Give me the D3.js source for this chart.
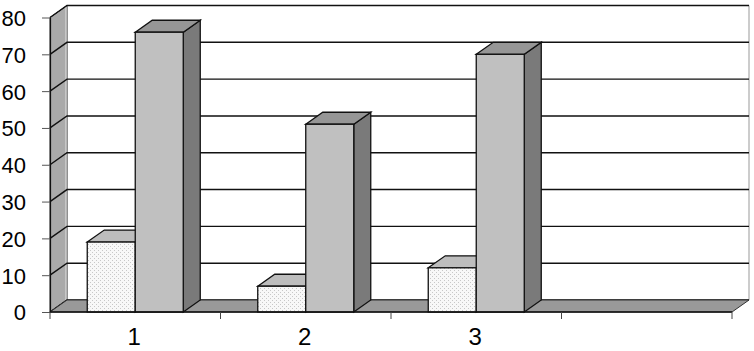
<!DOCTYPE html>
<html><head><meta charset="utf-8">
<script src="https://cdn.jsdelivr.net/npm/d3@7"></script>
<style>html,body{margin:0;padding:0;background:#fff;overflow:hidden}</style>
</head><body>
<svg id="c" width="754" height="351"></svg>
<script>
const categories = ["1", "2", "3", ""];
const seriesSmall = [19, 7, 12, null];
const seriesBig = [76, 51, 70, null];
const yTicks = [0, 10, 20, 30, 40, 50, 60, 70, 80];

const svg = d3.select("#c");
const x0 = 50, x1 = 732, dx = 17, dy = -12;
const y = d3.scaleLinear().domain([0, 80]).range([312, 17.5]);
const xb = d3.scaleBand().domain(categories).range([x0, x1]).padding(0);
const xs = d3.scaleBand().domain(["s", "b"]).range([0, xb.bandwidth()]).paddingInner(0).paddingOuter(0.776);

const defs = svg.append("defs");
const pat = defs.append("pattern").attr("id", "dots").attr("patternUnits", "userSpaceOnUse")
  .attr("width", 4).attr("height", 4);
pat.append("rect").attr("width", 4).attr("height", 4).attr("fill", "#f8f8f8");
pat.append("rect").attr("x", 0).attr("y", 0).attr("width", 1).attr("height", 1).attr("fill", "#c8c8c8");
pat.append("rect").attr("x", 2).attr("y", 2).attr("width", 1).attr("height", 1).attr("fill", "#c8c8c8");

const line = d3.line();
const poly = pts => line(pts) + "Z";

// back wall
svg.append("path").attr("d", poly([[x0 + dx, y(80) + dy], [x1 + dx, y(80) + dy], [x1 + dx, y(0) + dy], [x0 + dx, y(0) + dy]]))
  .attr("fill", "#fff").attr("stroke", "none");
svg.append("path").attr("d", line([[x1 + dx, y(80) + dy], [x1 + dx, y(0) + dy]]))
  .attr("stroke", "#999").attr("stroke-width", 1).attr("fill", "none");
// left wall
svg.append("path").attr("d", poly([[x0, y(0)], [x0, y(80)], [x0 + dx, y(80) + dy], [x0 + dx, y(0) + dy]]))
  .attr("fill", "#aaaaaa").attr("stroke", "#222").attr("stroke-width", 1);
svg.append("path").attr("d", line([[x0 + dx - 1, y(80) + dy + 1], [x0 + dx - 1, y(0) + dy]]))
  .attr("stroke", "#d0d0d0").attr("stroke-width", 1.5).attr("fill", "none");

// gridlines
yTicks.forEach(v => {
  svg.append("path").attr("d", line([[x0, y(v)], [x0 + dx, y(v) + dy], [x1 + dx, y(v) + dy]]))
    .attr("stroke", "#111").attr("stroke-width", 1.4).attr("fill", "none");
});

// floor
svg.append("path").attr("d", poly([[x0, y(0)], [x0 + dx, y(0) + dy], [x1 + dx, y(0) + dy], [x1, y(0)]]))
  .attr("fill", "#999999").attr("stroke", "#333").attr("stroke-width", 1);

// bars
function drawBar(xl, w, v, front, top, side, stroke) {
  const yt = y(v), yb = y(0);
  const g = svg.append("g");
  g.append("path").attr("d", poly([[xl + w, yb], [xl + w + dx, yb + dy], [xl + w + dx, yt + dy], [xl + w, yt]]))
    .attr("fill", side).attr("stroke", stroke).attr("stroke-width", 1.3);
  g.append("path").attr("d", poly([[xl, yt], [xl + dx, yt + dy], [xl + w + dx, yt + dy], [xl + w, yt]]))
    .attr("fill", top).attr("stroke", stroke).attr("stroke-width", 1.3);
  g.append("rect").attr("x", xl).attr("y", yt).attr("width", w).attr("height", yb - yt)
    .attr("fill", front).attr("stroke", stroke).attr("stroke-width", 1.3);
}
categories.forEach((c, i) => {
  const bx = xb(c);
  if (seriesSmall[i] != null) drawBar(bx + xs("s"), xs.bandwidth(), seriesSmall[i], "url(#dots)", "#bdbdbd", "#8a8a8a", "#111");
  if (seriesBig[i] != null) drawBar(bx + xs("b"), xs.bandwidth(), seriesBig[i], "#c0c0c0", "#969696", "#7a7a7a", "#111");
});

// front axis line
svg.append("path").attr("d", line([[x0, y(0)], [x1, y(0)]])).attr("stroke", "#111").attr("stroke-width", 1.5);

// y axis
const yAxis = svg.append("g").attr("transform", `translate(${x0},0)`)
  .call(d3.axisLeft(y).tickValues(yTicks).tickSizeInner(8).tickSizeOuter(0).tickPadding(16));
yAxis.select(".domain").attr("stroke", "#111").attr("stroke-width", 1.2);
yAxis.selectAll(".tick line").attr("stroke", "#555");
yAxis.selectAll(".tick text").attr("font-family", "Liberation Sans, Arial, sans-serif")
  .attr("font-size", 22).attr("fill", "#000").attr("dy", "0.36em");

// x axis ticks (boundaries)
const xAxis = svg.append("g").attr("transform", `translate(0,${y(0)})`);
const bounds = categories.map(c => xb(c)).concat([x1]);
xAxis.selectAll("line.tk").data(bounds).join("line").attr("class", "tk")
  .attr("x1", d => d).attr("x2", d => d).attr("y1", 0).attr("y2", 7)
  .attr("stroke", "#444").attr("stroke-width", 1);
xAxis.selectAll("text").data(categories).join("text")
  .attr("x", d => xb(d) + xb.bandwidth() / 2 - 1).attr("y", 33)
  .attr("text-anchor", "middle").attr("font-family", "Liberation Sans, Arial, sans-serif")
  .attr("font-size", 24).attr("fill", "#000").text(d => d);
</script>
</body></html>
